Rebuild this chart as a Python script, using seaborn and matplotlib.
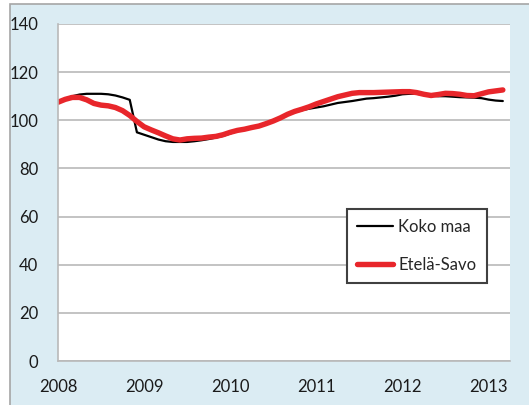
import numpy as np
import pandas as pd
import seaborn as sns
import matplotlib.pyplot as plt
from matplotlib.patches import Rectangle

# kuukausittaiset indeksit 1/2008 - 3/2013
koko_maa = [107.5, 109, 110, 110.7, 111, 111, 111, 110.8, 110.3, 109.5, 108.5, 95,
            94, 93, 92, 91.3, 91, 91, 91, 91.3, 91.7, 92.2, 92.8, 93.5,
            94.5, 95.5, 96.2, 97, 97.8, 98.7, 99.8, 101, 102.3, 103.3, 104.2, 104.8,
            105.3, 105.8, 106.5, 107.2, 107.6, 108, 108.5, 109, 109.2, 109.5, 109.8, 110.2,
            110.8, 111, 111, 110.6, 110.2, 110, 110, 109.8, 109.6, 109.5, 109.4, 109.2,
            108.6, 108.2, 108]
etela_savo = [107.5, 108.7, 109.5, 109.5, 108.5, 107, 106.3, 106, 105.3, 104, 102, 99.5,
              97.3, 96, 94.8, 93.5, 92.3, 91.8, 92.3, 92.5, 92.6, 93, 93.3, 94,
              95, 95.8, 96.3, 97, 97.6, 98.6, 99.7, 101, 102.5, 103.7, 104.6, 105.6,
              106.8, 107.8, 108.8, 109.8, 110.5, 111.2, 111.5, 111.5, 111.5, 111.6, 111.7, 111.8,
              111.9, 111.9, 111.5, 110.8, 110.3, 110.7, 111.2, 111.1, 110.8, 110.3, 110.2, 111,
              111.8, 112.2, 112.6]
vuodet = [2008, 2009, 2010, 2011, 2012, 2013]
y_ticks = [0, 20, 40, 60, 80, 100, 120, 140]

aika = 2008 + np.arange(len(koko_maa)) / 12
df = pd.DataFrame({
    "aika": np.concatenate([aika, aika]),
    "arvo": koko_maa + etela_savo,
    "sarja": ["Koko maa"] * len(koko_maa) + ["Etelä-Savo"] * len(etela_savo),
})

sns.set_style("white")
plt.rcParams["font.family"] = ["Lato", "DejaVu Sans"]

fig = plt.figure(figsize=(5.29, 4.05), dpi=100, facecolor="white")
# vaaleansininen tausta
fig.patches.append(Rectangle((10 / 529, -0.01), 1.0, 1 - 4 / 405 + 0.01, transform=fig.transFigure,
                             facecolor="#dbecf3", edgecolor="#a6a6a6", linewidth=1.2, zorder=-10))
ax = fig.add_axes([58 / 529, 1 - 361 / 405, (510 - 58) / 529, (361 - 24) / 405])
ax.set_facecolor("white")

sns.lineplot(data=df, x="aika", y="arvo", hue="sarja", size="sarja",
             palette={"Koko maa": "black", "Etelä-Savo": "#e8262b"},
             sizes={"Koko maa": 1.6, "Etelä-Savo": 3.9},
             hue_order=["Koko maa", "Etelä-Savo"], ax=ax)

ax.set_xlim(2008, 2013.25)
ax.set_ylim(0, 140)
ax.set_xticks(vuodet)
ax.set_yticks(y_ticks)
ax.grid(axis="y", color="#b9b9b9", linewidth=1.2)
ax.set_axisbelow(True)
for s in ["top", "right"]:
    ax.spines[s].set_visible(False)
for s in ["left", "bottom"]:
    ax.spines[s].set_color("#b9b9b9")
    ax.spines[s].set_linewidth(1.2)
ax.tick_params(axis="both", direction="out", length=4.3, width=1.2, color="#b9b9b9",
               labelsize=12, labelcolor="#1a1a1a")
ax.tick_params(axis="y", pad=10)
ax.tick_params(axis="x", pad=8.5)
ax.set_xlabel("")
ax.set_ylabel("")

leg = ax.legend(loc="upper left", bbox_to_anchor=(0.639, 0.451), borderaxespad=0, fontsize=12,
                handlelength=2.2, handletextpad=0.3, labelspacing=1.3,
                borderpad=0.6, fancybox=False, framealpha=1, edgecolor="#404040")
leg.get_frame().set_linewidth(1.5)

fig.savefig("out.png", dpi=100, facecolor=fig.get_facecolor())
